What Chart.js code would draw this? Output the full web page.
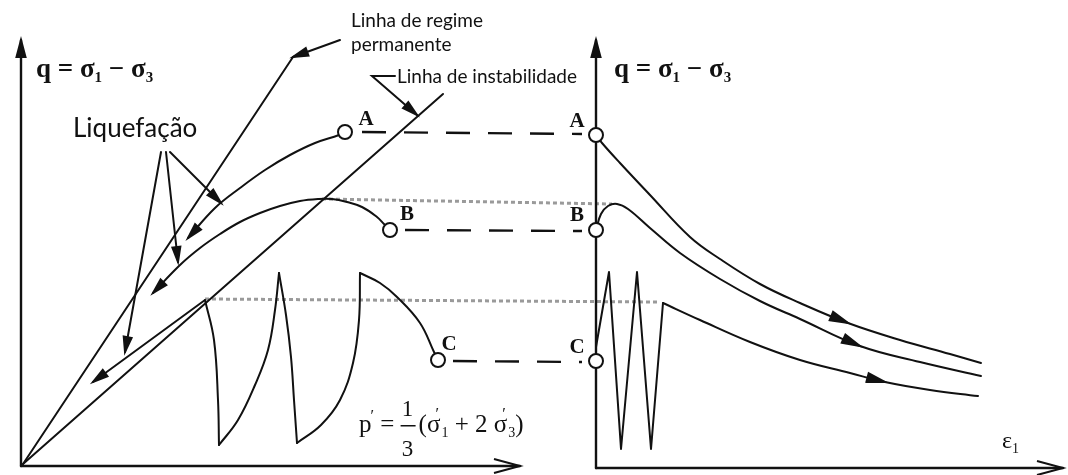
<!DOCTYPE html>
<html lang="pt">
<head>
<meta charset="utf-8">
<title>Liquefação – trajetórias de tensão</title>
<script src="https://cdn.jsdelivr.net/npm/chart.js@4.4.1/dist/chart.umd.min.js"></script>
<style>
  html, body { margin: 0; background: #fff; }
  #wrap { width: 1068px; height: 475px; position: relative; }
</style>
</head>
<body>
<div id="wrap"><canvas id="diagram"></canvas></div>
<script>
/* Plano p'-q à esquerda e q-ε1 à direita, num só referencial de desenho
   (x para a direita, y para baixo – o eixo y do Chart.js vai invertido). */
const W = 1068, H = 475;
const INK = '#111';
const GREY = '#9a9a9a';

// eixos
const leftQAxis  = [[21, 466], [21, 40]];
const leftPAxis  = [[21, 466], [520, 466]];
const rightQAxis = [[596, 468], [596, 40]];
const rightEAxis = [[596, 468], [1063, 468]];

// retas a partir da origem
const steadyLine      = [[23, 464], [293, 57]];
const instabilityLine = [[23, 464], [443, 94]];

// trajetórias de tensão efetiva (p', q)
const pathA = [[345, 132], [339, 135], [315, 143], [290, 155], [265, 170], [240, 188], [215, 208], [188, 238]];
const pathB = [[390, 230], [384, 224], [377, 217], [362, 207], [347, 202], [332, 199], [318, 199], [300, 201],
               [280, 206], [260, 213], [240, 222], [220, 234], [200, 248], [180, 265], [153, 293]];
const pathC1 = [[438, 360], [434, 352], [420, 323], [397, 297], [380, 283], [360, 273]];
const pathC2 = [[360, 273], [359, 320], [353, 363], [340, 400], [321, 425], [297, 443]];
const pathC3 = [[297, 443], [294, 400], [291, 357], [286, 315], [279, 273]];
const pathC4 = [[279, 273], [275, 310], [268, 350], [255, 385], [238, 420], [219, 445]];
const pathC5 = [[219, 445], [218, 400], [214, 340], [205, 300]];
const collapseC = [[205, 300], [93, 382]];

// setas da legenda "Liquefação" e chamadas das retas
const liqArrow1 = [[161, 152], [125, 352]];
const liqArrow2 = [[166, 152], [178, 262]];
const liqArrow3 = [[170, 152], [221, 203]];
const regimeLeader = [[340, 40], [293, 57]];
const instabLeader = [[395, 76], [372, 76], [417, 115]];

// curvas q-ε1
const curveA = [[596, 135], [602, 143], [620, 163], [650, 195], [690, 237], [720, 259], [760, 284], [800, 303],
                [848, 323], [900, 340], [950, 354], [981, 363]];
const curveB = [[596, 230], [601, 214], [608, 206], [617, 204], [628, 209], [650, 228], [680, 253], [720, 279],
                [760, 301], [800, 319], [860, 346], [920, 362], [981, 376]];
const zigC   = [[596, 347], [609, 272], [621, 449], [637, 272], [651, 449], [663, 303]];
const curveC = [[663, 303], [700, 320], [750, 342], [800, 360], [850, 373], [885, 382], [930, 390], [978, 396]];

// ligações entre os dois planos
const dotB  = [[322, 199], [612, 204]];
const dotC  = [[205, 299], [658, 302]];
const dashA = [[362, 132], [582, 134]];
const dashB = [[405, 230], [582, 231]];
const dashC = [[453, 361], [582, 362]];

// estados iniciais
const startPoints = [[345, 132], [390, 230], [438, 360], [596, 135], [596, 230], [596, 361]];
const startNames  = ['A', 'B', 'C', 'A', 'B', 'C'];
const nameSpots   = [[366, 118], [407, 213], [449, 343], [577, 120], [577, 214], [577, 346]];

function line(pts, extra) {
  return Object.assign({
    data: pts.map(([x, y]) => ({ x, y })),
    showLine: true, borderColor: INK, borderWidth: 2, pointRadius: 0,
    tension: 0, fill: false, borderCapStyle: 'round', borderJoinStyle: 'round'
  }, extra || {});
}

const endHead  = { at: 'end', style: 'filled', len: 15, half: 4 };
const axisHead = { at: 'end', style: 'filled', len: 17, half: 4.5 };
const openHead = { at: 'end', style: 'open', len: 26, half: 7 };

const datasets = [
  Object.assign(line(startPoints), {
    showLine: false, pointRadius: 7, pointHoverRadius: 7,
    pointBackgroundColor: '#fff', pointBorderColor: INK, pointBorderWidth: 2, order: -1
  }),
  line(leftQAxis,  { borderWidth: 2.4, arrow: axisHead }),
  line(leftPAxis,  { borderWidth: 2.4, arrow: openHead }),
  line(rightQAxis, { borderWidth: 2.4, arrow: axisHead }),
  line(rightEAxis, { borderWidth: 2.4, arrow: openHead }),
  line(steadyLine),
  line(instabilityLine),
  line(pathA, { tension: 0.4, arrow: endHead }),
  line(pathB, { tension: 0.4, arrow: endHead }),
  line(pathC1, { tension: 0.4 }),
  line(pathC2, { tension: 0.4 }),
  line(pathC3, { tension: 0.4 }),
  line(pathC4, { tension: 0.4 }),
  line(pathC5, { tension: 0.4 }),
  line(collapseC, { arrow: endHead }),
  line(liqArrow1, { arrow: endHead }),
  line(liqArrow2, { arrow: endHead }),
  line(liqArrow3, { arrow: endHead }),
  line(regimeLeader, { arrow: endHead }),
  line(instabLeader, { arrow: endHead, borderJoinStyle: 'miter' }),
  line(curveA, { tension: 0.4, arrow: { at: 8, style: 'filled', len: 18, half: 4.5 } }),
  line(curveB, { tension: 0.4, arrow: { at: 10, style: 'filled', len: 18, half: 4.5 } }),
  line(zigC),
  line(curveC, { tension: 0.4, arrow: { at: 5, style: 'filled', len: 18, half: 4.5 } }),
  line(dotB, { borderColor: GREY, borderWidth: 3, borderDash: [4, 3], borderCapStyle: 'butt' }),
  line(dotC, { borderColor: GREY, borderWidth: 3, borderDash: [4, 3], borderCapStyle: 'butt' }),
  line(dashA, { borderWidth: 2.4, borderDash: [24, 18], borderCapStyle: 'butt' }),
  line(dashB, { borderWidth: 2.4, borderDash: [24, 18], borderCapStyle: 'butt' }),
  line(dashC, { borderWidth: 2.4, borderDash: [24, 18], borderCapStyle: 'butt' })
];

/* pontas de seta: no fim da linha ou num ponto intermédio da curva */
const arrowPlugin = {
  id: 'arrowHeads',
  afterDatasetsDraw(chart) {
    const ctx = chart.ctx;
    chart.data.datasets.forEach((ds, i) => {
      if (!ds.arrow) return;
      const pts = chart.getDatasetMeta(i).data;
      const a = ds.arrow;
      let tip, from;
      if (a.at === 'end') { tip = pts[pts.length - 1]; from = pts[pts.length - 2]; }
      else { tip = pts[a.at]; from = pts[a.at - 1]; }
      const ang = Math.atan2(tip.y - from.y, tip.x - from.x);
      const bx = tip.x - a.len * Math.cos(ang), by = tip.y - a.len * Math.sin(ang);
      const px = -Math.sin(ang) * a.half, py = Math.cos(ang) * a.half;
      ctx.save();
      ctx.strokeStyle = INK; ctx.fillStyle = INK; ctx.lineWidth = 2;
      ctx.beginPath();
      ctx.moveTo(bx + px, by + py);
      ctx.lineTo(tip.x, tip.y);
      ctx.lineTo(bx - px, by - py);
      if (a.style === 'filled') { ctx.closePath(); ctx.fill(); }
      ctx.stroke();
      ctx.restore();
    });
  }
};

/* texto com índices e plicas, em pedaços */
function runs(ctx, x, y, parts, family) {
  let cx = x;
  parts.forEach(p => {
    ctx.font = (p.w || '') + ' ' + p.s + 'px ' + family;
    ctx.fillText(p.t, cx + (p.dx || 0), y + (p.dy || 0));
    if (!p.over) cx += ctx.measureText(p.t).width + (p.dx || 0);
  });
  return cx;
}

const labelPlugin = {
  id: 'labels',
  afterDraw(chart) {
    const ctx = chart.ctx;
    const sx = v => chart.scales.x.getPixelForValue(v);
    const sy = v => chart.scales.y.getPixelForValue(v);
    const SERIF = '"Liberation Serif", "DejaVu Serif", serif';
    const SANS = 'Lato, "Open Sans", sans-serif';
    ctx.save();
    ctx.fillStyle = INK;
    ctx.textBaseline = 'alphabetic';

    // legendas em português
    ctx.textAlign = 'left';
    ctx.font = '19px ' + SANS;
    ctx.fillText('Linha de regime', sx(351), sy(27));
    ctx.fillText('permanente', sx(351), sy(51));
    ctx.fillText('Linha de instabilidade', sx(397), sy(83));
    ctx.font = '26px ' + SANS;
    ctx.fillText('Liquefação', sx(73), sy(137));

    // q = σ1 − σ3 nos dois eixos verticais
    const qLabel = [
      { t: 'q = σ', s: 27, w: 'bold' }, { t: '1', s: 15, dy: 5, w: 'bold' },
      { t: ' − σ', s: 27, w: 'bold' }, { t: '3', s: 15, dy: 5, w: 'bold' }
    ];
    runs(ctx, sx(36), sy(77), qLabel, SERIF);
    runs(ctx, sx(614), sy(77), qLabel, SERIF);

    // p' = 1/3 (σ'1 + 2σ'3)
    let cx = runs(ctx, sx(359), sy(432), [
      { t: 'p', s: 25 }, { t: '′', s: 16, dy: -11, dx: -1 }, { t: ' = ', s: 25 }
    ], SERIF);
    ctx.font = '23px ' + SERIF;
    ctx.textAlign = 'center';
    ctx.fillText('1', cx + 7, sy(416));
    ctx.fillText('3', cx + 7, sy(456));
    ctx.fillRect(cx, sy(425), 15, 1.5);
    ctx.textAlign = 'left';
    runs(ctx, cx + 18, sy(432), [
      { t: '(σ', s: 25 }, { t: '′', s: 16, dy: -13, dx: -5, over: true }, { t: '1', s: 14, dy: 5, dx: 1 },
      { t: ' + 2 σ', s: 25 }, { t: '′', s: 16, dy: -13, dx: -5, over: true }, { t: '3', s: 14, dy: 5, dx: 1 },
      { t: ')', s: 25 }
    ], SERIF);

    // ε1
    runs(ctx, sx(1002), sy(448), [{ t: 'ε', s: 24 }, { t: '1', s: 14, dy: 5 }], SERIF);

    // letras dos estados iniciais
    ctx.textAlign = 'center';
    ctx.font = 'bold 21px ' + SERIF;
    startNames.forEach((n, i) => {
      ctx.fillText(n, sx(nameSpots[i][0]), sy(nameSpots[i][1] + 7));
    });
    ctx.restore();
  }
};

new Chart(document.getElementById('diagram'), {
  type: 'scatter',
  data: { datasets },
  options: {
    responsive: true,
    maintainAspectRatio: false,
    animation: false,
    events: [],
    layout: { padding: 0, autoPadding: false },
    plugins: { legend: { display: false }, tooltip: { enabled: false } },
    scales: {
      x: { type: 'linear', min: 0, max: W, display: false },
      y: { type: 'linear', min: 0, max: H, reverse: true, display: false }
    }
  },
  plugins: [arrowPlugin, labelPlugin]
});
</script>
</body>
</html>
